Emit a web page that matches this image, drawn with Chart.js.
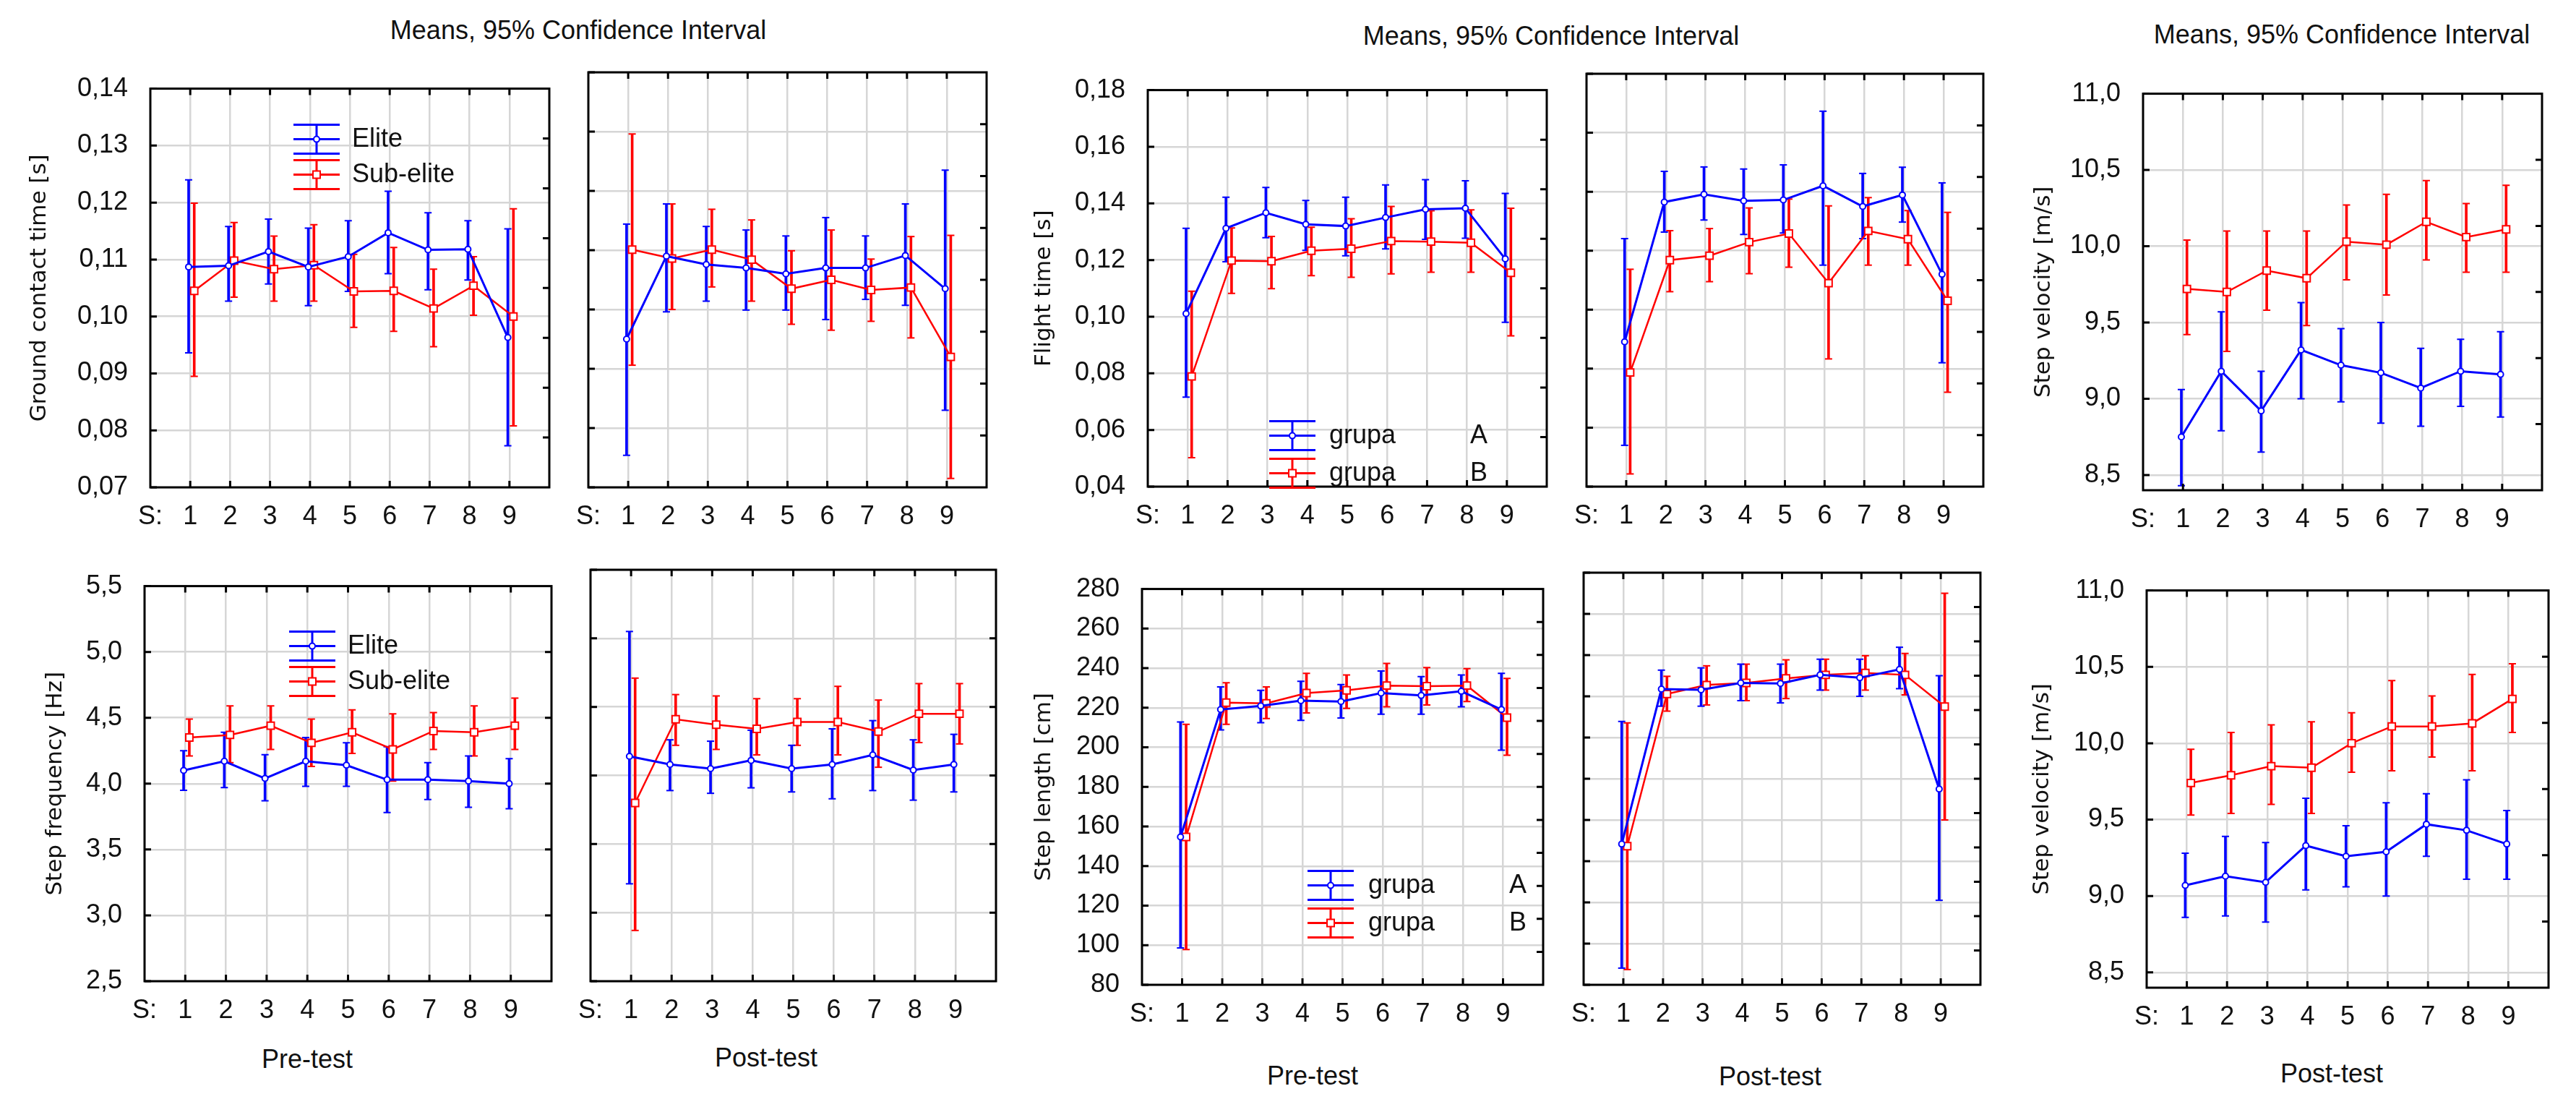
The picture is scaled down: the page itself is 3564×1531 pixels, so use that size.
<!DOCTYPE html>
<html>
<head>
<meta charset="utf-8">
<script src="https://cdn.jsdelivr.net/npm/chart.js@4.4.1/dist/chart.umd.min.js"></script>
<style>
  body { margin: 0; background: #fff; width: 3564px; height: 1531px; position: relative; overflow: hidden; font-family: "Liberation Sans", Arial, sans-serif; }
  canvas { position: absolute; }
  .txt { position: absolute; font-size: 36px; line-height: 1; color: #111; white-space: nowrap; transform: translateX(-50%); }
</style>
</head>
<body>
<div class="txt" style="left:800px;top:24px">Means, 95% Confidence Interval</div>
<div class="txt" style="left:2146px;top:32px">Means, 95% Confidence Interval</div>
<div class="txt" style="left:3240px;top:30px">Means, 95% Confidence Interval</div>
<div class="txt" style="left:425px;top:1447px">Pre-test</div>
<div class="txt" style="left:1060px;top:1445px">Post-test</div>
<div class="txt" style="left:1816px;top:1470px">Pre-test</div>
<div class="txt" style="left:2449px;top:1471px">Post-test</div>
<div class="txt" style="left:3226px;top:1467px">Post-test</div>
<script>
//--DATA-------------------------------------------------------------------------------------------
const sessions = [1, 2, 3, 4, 5, 6, 7, 8, 9];
const xTickValues = [0, 1, 2, 3, 4, 5, 6, 7, 8, 9, 10];

const gcTicks = [0.07, 0.08, 0.09, 0.10, 0.11, 0.12, 0.13, 0.14];
const ftTicks = [0.04, 0.06, 0.08, 0.10, 0.12, 0.14, 0.16, 0.18];
const sfTicks = [2.5, 3.0, 3.5, 4.0, 4.5, 5.0, 5.5];
const slTicks = [80, 100, 120, 140, 160, 180, 200, 220, 240, 260, 280];
const vTicks = [8.5, 9.0, 9.5, 10.0, 10.5, 11.0];

// ground contact time, pre-test
const gcPreElite   = [0.1087, 0.1089, 0.1114, 0.1087, 0.1105, 0.1147, 0.1117, 0.1118, 0.0963];
const gcPreEliteLo = [0.0936, 0.1027, 0.1057, 0.1019, 0.1044, 0.1075, 0.1047, 0.1064, 0.0773];
const gcPreEliteHi = [0.1240, 0.1158, 0.1171, 0.1155, 0.1168, 0.1220, 0.1182, 0.1168, 0.1154];
const gcPreSub     = [0.1045, 0.1098, 0.1083, 0.1090, 0.1044, 0.1045, 0.1014, 0.1054, 0.1000];
const gcPreSubLo   = [0.0895, 0.1034, 0.1027, 0.1027, 0.0981, 0.0974, 0.0947, 0.1002, 0.0808];
const gcPreSubHi   = [0.1199, 0.1165, 0.1141, 0.1161, 0.1109, 0.1121, 0.1083, 0.1105, 0.1189];
// ground contact time, post-test
const gcPostElite   = [0.0950, 0.1090, 0.1076, 0.1070, 0.1060, 0.1070, 0.1070, 0.1091, 0.1035];
const gcPostEliteLo = [0.0754, 0.0996, 0.1014, 0.0999, 0.0999, 0.0983, 0.1017, 0.1007, 0.0830];
const gcPostEliteHi = [0.1144, 0.1178, 0.1140, 0.1134, 0.1124, 0.1155, 0.1124, 0.1178, 0.1235];
const gcPostSub     = [0.1101, 0.1086, 0.1101, 0.1084, 0.1035, 0.1050, 0.1033, 0.1037, 0.0920];
const gcPostSubLo   = [0.0906, 0.1000, 0.1038, 0.1014, 0.0975, 0.0965, 0.0980, 0.0952, 0.0715];
const gcPostSubHi   = [0.1296, 0.1178, 0.1169, 0.1151, 0.1099, 0.1134, 0.1085, 0.1123, 0.1125];

// step frequency, pre-test
const sfPreElite   = [4.10, 4.17, 4.04, 4.17, 4.14, 4.03, 4.03, 4.02, 4.00];
const sfPreEliteLo = [3.95, 3.97, 3.87, 3.98, 3.98, 3.78, 3.88, 3.82, 3.81];
const sfPreEliteHi = [4.25, 4.39, 4.22, 4.35, 4.31, 4.28, 4.16, 4.21, 4.19];
const sfPreSub     = [4.35, 4.37, 4.44, 4.31, 4.39, 4.26, 4.40, 4.39, 4.44];
const sfPreSubLo   = [4.21, 4.16, 4.26, 4.13, 4.23, 4.02, 4.26, 4.21, 4.26];
const sfPreSubHi   = [4.49, 4.59, 4.59, 4.49, 4.56, 4.53, 4.54, 4.59, 4.65];
// step frequency, post-test
const sfPostElite   = [4.14, 4.08, 4.05, 4.11, 4.05, 4.08, 4.15, 4.04, 4.08];
const sfPostEliteLo = [3.21, 3.89, 3.87, 3.91, 3.88, 3.83, 3.89, 3.82, 3.88];
const sfPostEliteHi = [5.05, 4.26, 4.25, 4.33, 4.22, 4.34, 4.40, 4.26, 4.30];
const sfPostSub     = [3.80, 4.41, 4.37, 4.34, 4.39, 4.39, 4.32, 4.45, 4.45];
const sfPostSubLo   = [2.87, 4.22, 4.19, 4.15, 4.22, 4.15, 4.06, 4.24, 4.23];
const sfPostSubHi   = [4.71, 4.59, 4.58, 4.56, 4.56, 4.65, 4.55, 4.67, 4.67];

// flight time, pre-test
const ftPreA   = [0.1011, 0.1312, 0.1367, 0.1326, 0.1320, 0.1350, 0.1379, 0.1383, 0.1204];
const ftPreALo = [0.0716, 0.1194, 0.1279, 0.1234, 0.1215, 0.1239, 0.1273, 0.1277, 0.0980];
const ftPreAHi = [0.1312, 0.1422, 0.1456, 0.1410, 0.1422, 0.1465, 0.1484, 0.1480, 0.1435];
const ftPreB   = [0.0789, 0.1198, 0.1196, 0.1233, 0.1240, 0.1267, 0.1265, 0.1261, 0.1155];
const ftPreBLo = [0.0502, 0.1082, 0.1099, 0.1145, 0.1139, 0.1151, 0.1157, 0.1157, 0.0932];
const ftPreBHi = [0.1090, 0.1313, 0.1283, 0.1316, 0.1346, 0.1389, 0.1374, 0.1377, 0.1383];
// flight time, post-test
const ftPostA   = [0.0891, 0.1365, 0.1391, 0.1369, 0.1372, 0.1420, 0.1350, 0.1389, 0.1120];
const ftPostALo = [0.0540, 0.1263, 0.1304, 0.1255, 0.1260, 0.1151, 0.1241, 0.1297, 0.0820];
const ftPostAHi = [0.1241, 0.1469, 0.1484, 0.1477, 0.1491, 0.1673, 0.1462, 0.1483, 0.1430];
const ftPostB   = [0.0787, 0.1168, 0.1183, 0.1229, 0.1258, 0.1090, 0.1267, 0.1239, 0.1030];
const ftPostBLo = [0.0443, 0.1061, 0.1095, 0.1122, 0.1144, 0.0833, 0.1151, 0.1151, 0.0720];
const ftPostBHi = [0.1137, 0.1268, 0.1275, 0.1345, 0.1375, 0.1352, 0.1380, 0.1336, 0.1330];

// step length, pre-test
const slPreA   = [154.7, 219.1, 220.9, 223.6, 223.1, 227.4, 226.2, 228.3, 219.1];
const slPreALo = [98.6, 208.8, 212.4, 213.6, 214.8, 216.7, 216.7, 220.5, 198.6];
const slPreAHi = [212.8, 230.5, 228.8, 233.4, 231.7, 238.6, 235.7, 236.6, 237.4];
const slPreB   = [154.7, 222.6, 222.2, 227.4, 228.8, 231.2, 230.9, 231.2, 215.0];
const slPreBLo = [97.8, 211.6, 214.5, 217.4, 219.7, 220.5, 221.4, 223.1, 196.0];
const slPreBHi = [211.6, 232.6, 230.5, 237.4, 236.6, 242.4, 240.3, 239.8, 234.8];
// step length, post-test
const slPostA   = [148.3, 223.5, 223.2, 226.5, 226.2, 230.4, 229.0, 233.1, 175.0];
const slPostALo = [88.1, 215.2, 215.2, 217.9, 216.8, 223.0, 220.0, 223.7, 121.0];
const slPostAHi = [207.8, 232.7, 233.8, 235.6, 235.6, 238.0, 238.0, 243.8, 230.0];
const slPostB   = [147.3, 221.1, 225.5, 226.5, 228.7, 230.4, 231.3, 230.4, 215.0];
const slPostBLo = [87.4, 212.8, 215.8, 217.9, 218.9, 223.0, 223.0, 220.7, 160.0];
const slPostBHi = [207.1, 229.7, 234.8, 235.6, 237.7, 238.0, 239.7, 240.8, 270.0];

// step velocity, upper and lower panel
const v1Elite   = [8.75, 9.18, 8.92, 9.32, 9.22, 9.17, 9.07, 9.18, 9.16];
const v1EliteLo = [8.43, 8.79, 8.65, 9.00, 8.98, 8.84, 8.82, 8.95, 8.88];
const v1EliteHi = [9.06, 9.57, 9.18, 9.63, 9.46, 9.50, 9.33, 9.39, 9.44];
const v1Sub     = [9.72, 9.70, 9.84, 9.79, 10.03, 10.01, 10.16, 10.06, 10.11];
const v1SubLo   = [9.42, 9.31, 9.58, 9.48, 9.78, 9.68, 9.91, 9.83, 9.83];
const v1SubHi   = [10.04, 10.10, 10.10, 10.10, 10.27, 10.34, 10.43, 10.28, 10.40];
const v2Elite   = [9.07, 9.13, 9.09, 9.33, 9.26, 9.29, 9.47, 9.43, 9.34];
const v2EliteLo = [8.86, 8.87, 8.83, 9.04, 9.06, 9.00, 9.26, 9.11, 9.11];
const v2EliteHi = [9.28, 9.39, 9.35, 9.64, 9.46, 9.61, 9.67, 9.76, 9.56];
const v2Sub     = [9.74, 9.79, 9.85, 9.84, 10.00, 10.11, 10.11, 10.13, 10.29];
const v2SubLo   = [9.53, 9.54, 9.60, 9.54, 9.81, 9.82, 9.91, 9.82, 10.07];
const v2SubHi   = [9.96, 10.07, 10.12, 10.14, 10.20, 10.41, 10.31, 10.45, 10.52];
//-------------------------------------------------------------------------------------------------

const BLUE = "#0000ff";
const RED = "#ff0000";
const GRID = "#d6d6d6";
const TXT = "#111";
const FONT = '"Liberation Sans", Arial, sans-serif';

const eliteLegend = [["Elite", ""], ["Sub-elite", ""]];
const grupaLegend = [["grupa", "A"], ["grupa", "B"]];

const panels = [
  { box: [208, 100, 760, 674], yMin: 0.07, yMax: 0.14, yTicks: gcTicks, dec: 2, yTitle: "Ground contact time [s]", titleX: 55, rightDiv: 8,
    a: [gcPreElite, gcPreEliteLo, gcPreEliteHi], b: [gcPreSub, gcPreSubLo, gcPreSubHi],
    legend: { x: 230, y: 70, gap: 49, textDx: 49, items: eliteLegend } },
  { box: [808, 100, 1365, 674], yMin: 0.07, yMax: 0.14, yTicks: gcTicks, dec: 2, rightDiv: 8,
    a: [gcPostElite, gcPostEliteLo, gcPostEliteHi], b: [gcPostSub, gcPostSubLo, gcPostSubHi] },
  { box: [1588, 102, 2140, 673], yMin: 0.04, yMax: 0.18, yTicks: ftTicks, dec: 2, yTitle: "Flight time [s]", titleX: 1445, rightDiv: 8,
    a: [ftPreA, ftPreALo, ftPreAHi], b: [ftPreB, ftPreBLo, ftPreBHi],
    legend: { x: 200, y: 478, gap: 52, textDx: 51, tagDx: 246, items: grupaLegend } },
  { box: [2189, 102, 2744, 673], yMin: 0.04, yMax: 0.18, yTicks: ftTicks, dec: 2, rightDiv: 8,
    a: [ftPostA, ftPostALo, ftPostAHi], b: [ftPostB, ftPostBLo, ftPostBHi] },
  { box: [2965, 107, 3517, 678], yMin: 8.4, yMax: 11.0, yTicks: vTicks, dec: 1, yTitle: "Step velocity [m/s]", titleX: 2828, rightDiv: 6,
    a: [v1Elite, v1EliteLo, v1EliteHi], b: [v1Sub, v1SubLo, v1SubHi] },
  { box: [200, 788, 763, 1357], yMin: 2.5, yMax: 5.5, yTicks: sfTicks, dec: 1, yTitle: "Step frequency [Hz]", titleX: 77, rightDiv: 6,
    a: [sfPreElite, sfPreEliteLo, sfPreEliteHi], b: [sfPreSub, sfPreSubLo, sfPreSubHi],
    legend: { x: 232, y: 83, gap: 49, textDx: 49, items: eliteLegend } },
  { box: [811, 788, 1378, 1357], yMin: 2.5, yMax: 5.5, yTicks: sfTicks, dec: 1, rightDiv: 6,
    a: [sfPostElite, sfPostEliteLo, sfPostEliteHi], b: [sfPostSub, sfPostSubLo, sfPostSubHi] },
  { box: [1580, 792, 2135, 1362], yMin: 80, yMax: 280, yTicks: slTicks, dec: 0, yTitle: "Step length [cm]", titleX: 1445, rightDiv: 12,
    a: [slPreA, slPreALo, slPreAHi], b: [slPreB, slPreBLo, slPreBHi],
    legend: { x: 261, y: 410, gap: 52, textDx: 52, tagDx: 247, items: grupaLegend } },
  { box: [2185, 792, 2740, 1362], yMin: 80, yMax: 280, yTicks: slTicks, dec: 0, rightDiv: 12,
    a: [slPostA, slPostALo, slPostAHi], b: [slPostB, slPostBLo, slPostBHi] },
  { box: [2970, 794, 3526, 1366], yMin: 8.4, yMax: 11.0, yTicks: vTicks, dec: 1, yTitle: "Step velocity [m/s]", titleX: 2826, rightDiv: 6,
    a: [v2Elite, v2EliteLo, v2EliteHi], b: [v2Sub, v2SubLo, v2SubHi] },
];

//--FRAME, INWARD TICKS AND LEGEND-----------------------------------------------------------------
const statFrame = {
  id: "statFrame",
  afterDraw(chart, args, opts) {
    const { ctx, chartArea: a } = chart;
    const x = chart.scales.x;
    const y = chart.scales.y;
    ctx.save();
    ctx.strokeStyle = "#000";
    ctx.lineWidth = 3;
    ctx.beginPath();
    sessions.forEach((s) => {
      const px = x.getPixelForValue(s);
      ctx.moveTo(px, a.top);
      ctx.lineTo(px, a.top + 9);
      ctx.moveTo(px, a.bottom);
      ctx.lineTo(px, a.bottom - 9);
    });
    y.ticks.forEach((t) => {
      const py = y.getPixelForValue(t.value);
      ctx.moveTo(a.left, py);
      ctx.lineTo(a.left + 9, py);
    });
    for (let i = 1; i < opts.rightDiv; i++) {
      const py = a.top + ((a.bottom - a.top) * i) / opts.rightDiv;
      ctx.moveTo(a.right, py);
      ctx.lineTo(a.right - 9, py);
    }
    ctx.stroke();
    ctx.strokeRect(a.left, a.top, a.right - a.left, a.bottom - a.top);

    const lg = opts.legend;
    if (lg) {
      const colors = [BLUE, RED];
      lg.items.forEach((it, i) => {
        const sx = a.left + lg.x;
        const cy = a.top + lg.y + i * lg.gap;
        ctx.strokeStyle = colors[i];
        ctx.lineWidth = 3;
        ctx.beginPath();
        ctx.moveTo(sx, cy - 20);
        ctx.lineTo(sx, cy + 20);
        [-20, 0, 20].forEach((d) => {
          ctx.moveTo(sx - 32, cy + d);
          ctx.lineTo(sx + 32, cy + d);
        });
        ctx.stroke();
        ctx.fillStyle = "#fff";
        ctx.lineWidth = 2;
        ctx.beginPath();
        if (i === 0) ctx.arc(sx, cy, 4, 0, Math.PI * 2);
        else ctx.rect(sx - 5, cy - 5, 10, 10);
        ctx.fill();
        ctx.stroke();
        ctx.fillStyle = TXT;
        ctx.font = "36px " + FONT;
        ctx.textBaseline = "middle";
        ctx.fillText(it[0], sx + lg.textDx, cy);
        if (it[1]) ctx.fillText(it[1], sx + lg.tagDx, cy);
      });
    }
    ctx.restore();
  },
};

//--DATASETS---------------------------------------------------------------------------------------
function groupSets(series, color, dx, style, lw) {
  const [mean, lo, hi] = series;
  return [
    {
      type: "bar",
      data: sessions.map((s, i) => ({ x: s + dx, y: [lo[i], hi[i]] })),
      backgroundColor: color,
      barThickness: 3,
      grouped: false,
      order: 3,
    },
    {
      type: "scatter",
      data: sessions.flatMap((s, i) => [{ x: s + dx, y: lo[i] }, { x: s + dx, y: hi[i] }]),
      pointStyle: "line",
      pointRadius: 5,
      pointBorderWidth: 2,
      pointBorderColor: color,
      borderColor: color,
      order: 2,
    },
    {
      type: "line",
      data: sessions.map((s, i) => ({ x: s + dx, y: mean[i] })),
      borderColor: color,
      borderWidth: lw,
      pointStyle: style,
      pointRadius: style === "rect" ? 7 : 4,
      pointBorderWidth: 2,
      pointBorderColor: color,
      pointBackgroundColor: "#fff",
      tension: 0,
      order: 1,
    },
  ];
}

function fmt(v, dec) {
  return v.toFixed(dec).replace(".", ",");
}

//--BUILD PANELS-----------------------------------------------------------------------------------
function makePanel(p) {
  const axW = p.yTitle ? 200 : 30;
  const padT = 30, padR = 30, xH = 70;
  const w = p.box[2] - p.box[0] + axW + padR;
  const h = p.box[3] - p.box[1] + padT + xH;
  const cv = document.createElement("canvas");
  cv.width = w;
  cv.height = h;
  cv.style.left = p.box[0] - axW + "px";
  cv.style.top = p.box[1] - padT + "px";
  cv.style.width = w + "px";
  cv.style.height = h + "px";
  document.body.appendChild(cv);

  const titleLine = 31 * 1.2;
  const titlePad = p.yTitle ? p.titleX - (p.box[0] - axW) - titleLine / 2 : 0;

  new Chart(cv.getContext("2d"), {
    type: "line",
    data: {
      datasets: [...groupSets(p.a, BLUE, -0.04, "circle", 3), ...groupSets(p.b, RED, 0.1, "rect", 2.5)],
    },
    options: {
      responsive: false,
      animation: false,
      devicePixelRatio: 1,
      events: [],
      layout: { padding: { top: padT, right: padR, left: 0, bottom: 0 } },
      plugins: {
        legend: { display: false },
        tooltip: { enabled: false },
        statFrame: { rightDiv: p.rightDiv, legend: p.legend },
      },
      scales: {
        x: {
          type: "linear",
          min: 0,
          max: 10,
          offset: false,
          afterBuildTicks: (s) => { s.ticks = xTickValues.map((v) => ({ value: v })); },
          afterFit: (s) => { s.height = xH; },
          ticks: {
            autoSkip: false,
            maxRotation: 0,
            padding: 19,
            color: TXT,
            font: { size: 36, family: FONT },
            callback: (v) => (v === 0 ? "S:" : v <= 9 ? String(v) : ""),
          },
          grid: {
            offset: false,
            drawTicks: false,
            lineWidth: 2.5,
            color: (c) => (c.tick && c.tick.value >= 1 && c.tick.value <= 9 ? GRID : "rgba(0,0,0,0)"),
          },
          border: { display: false },
        },
        y: {
          type: "linear",
          min: p.yMin,
          max: p.yMax,
          afterBuildTicks: (s) => { s.ticks = p.yTicks.map((v) => ({ value: v })); },
          afterFit: (s) => { s.width = axW; },
          ticks: {
            display: !!p.yTitle,
            padding: 31,
            color: TXT,
            font: { size: 36, family: FONT },
            callback: (v) => fmt(v, p.dec),
          },
          grid: { drawTicks: false, lineWidth: 2.5, color: GRID },
          border: { display: false },
          title: {
            display: !!p.yTitle,
            text: p.yTitle || "",
            color: TXT,
            font: { size: 31, family: '"DejaVu Sans", sans-serif' },
            padding: { top: titlePad, bottom: 0 },
          },
        },
      },
    },
    plugins: [statFrame],
  });
}

panels.forEach(makePanel);
</script>
</body>
</html>
